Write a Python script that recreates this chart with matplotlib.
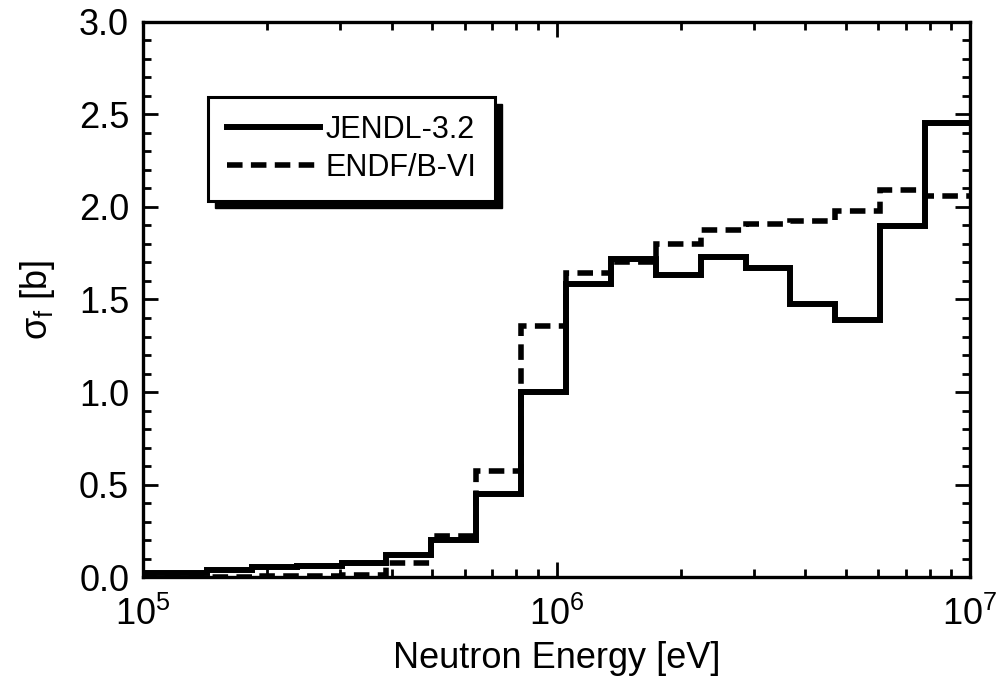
import matplotlib
matplotlib.use("Agg")
import matplotlib.pyplot as plt
from matplotlib.ticker import MultipleLocator, LogLocator, LogFormatterMathtext, NullFormatter
from matplotlib.patches import Rectangle

# Group boundaries (eV), lethargy width 0.25 from 10 MeV
edges = [8.652e4, 1.111e5, 1.426e5, 1.832e5, 2.352e5, 3.020e5, 3.877e5, 4.979e5,
         6.393e5, 8.208e5, 1.054e6, 1.353e6, 1.738e6, 2.231e6, 2.865e6, 3.679e6,
         4.724e6, 6.065e6, 7.788e6, 1.0e7]

jendl = [0.025, 0.025, 0.040, 0.055, 0.060, 0.077, 0.120, 0.200, 0.447, 1.000,
         1.585, 1.720, 1.635, 1.730, 1.670, 1.476, 1.389, 1.897, 2.454]
endf = [0.0, 0.0, 0.0, 0.004, 0.005, 0.010, 0.075, 0.220, 0.575, 1.357,
        1.645, 1.700, 1.800, 1.876, 1.906, 1.926, 1.978, 2.092, 2.060]

labels = ["JENDL-3.2", "ENDF/B-VI"]

plt.rcParams['font.family'] = ['Liberation Sans', 'DejaVu Sans']
plt.rcParams['mathtext.fontset'] = 'custom'
plt.rcParams['mathtext.rm'] = 'Liberation Sans'
plt.rcParams['mathtext.it'] = 'Liberation Sans'
plt.rcParams['mathtext.default'] = 'regular'

fig = plt.figure(figsize=(10.03, 6.83), dpi=100)
ax = fig.add_axes([0.1426, 0.155, 0.8245, 0.813])

ax.stairs(jendl, edges, color='black', lw=4.3, label=labels[0], baseline=None, zorder=3)
ax.stairs(endf, edges, color='black', lw=4.0, linestyle=(0, (2.8, 1.5)),
          label=labels[1], baseline=None, zorder=2)

ax.set_xscale('log')
ax.set_xlim(1e5, 1e7)
ax.set_ylim(0, 3.0)

ax.yaxis.set_major_locator(MultipleLocator(0.5))
ax.yaxis.set_minor_locator(MultipleLocator(0.1))
ax.yaxis.set_major_formatter(plt.FormatStrFormatter('%.1f'))
ax.xaxis.set_major_locator(LogLocator(base=10, numticks=10))
ax.xaxis.set_minor_locator(LogLocator(base=10, subs=range(2, 10), numticks=20))
ax.xaxis.set_major_formatter(LogFormatterMathtext())
ax.xaxis.set_minor_formatter(NullFormatter())

ax.tick_params(which='both', direction='in', top=True, right=True, labelsize=26, width=2, color='black')
ax.tick_params(which='major', length=11)
ax.tick_params(which='minor', length=6)
ax.tick_params(axis='x', which='major', pad=14)
ax.tick_params(axis='y', which='major', pad=10)

for s in ax.spines.values():
    s.set_linewidth(2.4)

ax.set_xlabel('Neutron Energy [eV]', fontsize=26, labelpad=6)
ax.set_ylabel(r'$\sigma_f$ [b]', fontsize=26, labelpad=16)

leg = ax.legend(loc='upper left', bbox_to_anchor=(0.079, 0.865), fontsize=22,
                frameon=True, fancybox=False, edgecolor='black', framealpha=1,
                handlelength=3.05, handletextpad=0.2, borderpad=0.6, labelspacing=0.25,
                borderaxespad=0)
leg.get_frame().set_linewidth(2.2)
leg.set_zorder(6)

fig.canvas.draw()
bb = leg.get_window_extent()
inv = ax.transAxes.inverted()
(x0, y0), (x1, y1) = inv.transform([[bb.x0 + 7, bb.y0 - 7], [bb.x1 + 7, bb.y1 - 7]])
shadow = Rectangle((x0, y0), x1 - x0, y1 - y0, transform=ax.transAxes,
                   facecolor='black', edgecolor='black', zorder=5.5, clip_on=False)
ax.add_patch(shadow)

fig.savefig('out.png', dpi=100)
